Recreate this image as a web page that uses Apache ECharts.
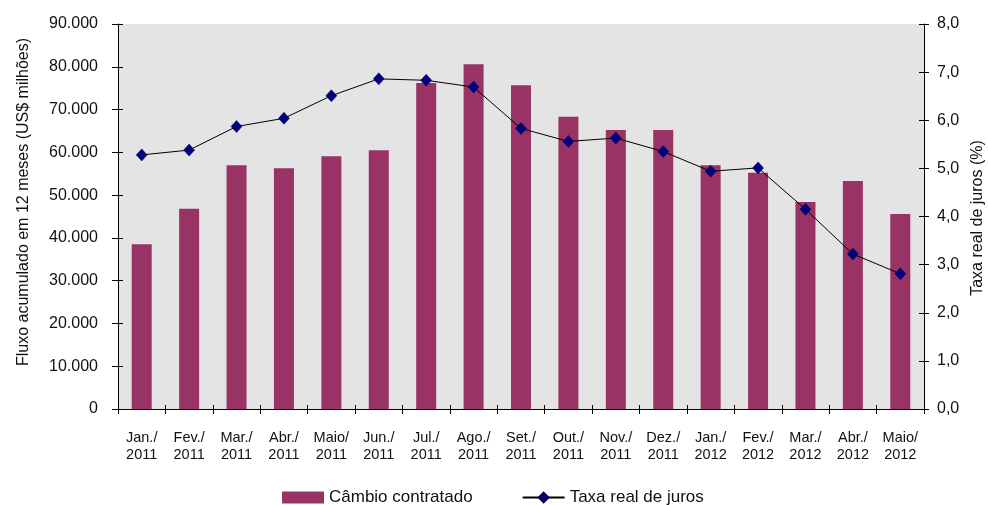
<!DOCTYPE html>
<html>
<head>
<meta charset="utf-8">
<script src="https://cdn.jsdelivr.net/npm/echarts@6/dist/echarts.min.js"></script>
<style>
html,body{margin:0;padding:0;background:#fff;}
#chart{width:988px;height:505px;}
</style>
</head>
<body>
<div id="chart"></div>
<script>
const categories = ['Jan./\n2011','Fev./\n2011','Mar./\n2011','Abr./\n2011','Maio/\n2011','Jun./\n2011','Jul./\n2011','Ago./\n2011','Set./\n2011','Out./\n2011','Nov./\n2011','Dez./\n2011','Jan./\n2012','Fev./\n2012','Mar./\n2012','Abr./\n2012','Maio/\n2012'];
const cambioContratado = [38500, 46800, 57000, 56300, 59100, 60500, 76200, 80600, 75700, 68300, 65200, 65200, 57000, 55200, 48400, 53300, 45600];
const taxaRealJuros = [5.28, 5.38, 5.87, 6.04, 6.51, 6.86, 6.83, 6.69, 5.83, 5.56, 5.63, 5.35, 4.94, 5.01, 4.15, 3.22, 2.81];
const leftTicks = [0, 90000, 10000];
const rightTicks = [0, 8, 1];
const seriesNames = ['Câmbio contratado', 'Taxa real de juros'];
const leftTitle = 'Fluxo acumulado em 12 meses (US$ milhões)';
const rightTitle = 'Taxa real de juros (%)';

const FONT = 'Liberation Sans, Arial, sans-serif';
const chart = echarts.init(document.getElementById('chart'), null, {renderer: 'canvas'});

function fmtLeft(v){
  if (v === 0) return '0';
  return (v/1000).toFixed(3);
}
function fmtRight(v){
  return v.toFixed(1).replace('.', ',');
}

const grid = {left: 118, right: 64, top: 24, bottom: 96, show: true, backgroundColor: '#e4e4e4', borderWidth: 0, containLabel: false};

chart.setOption({
  animation: false,
  textStyle: {fontFamily: FONT},
  grid: grid,
  legend: {
    left: 277, top: 484,
    itemWidth: 42, itemHeight: 12, itemGap: 49,
    textStyle: {fontFamily: FONT, fontSize: 17, color: '#111'},
    data: [
      {name: seriesNames[0], icon: 'rect'},
      {name: seriesNames[1]}
    ]
  },
  xAxis: [{
    type: 'category', data: categories, boundaryGap: true,
    axisLine: {show: true, lineStyle: {color: '#000', width: 1}},
    axisTick: {show: true, alignWithLabel: false, length: 5, lineStyle: {color: '#000'}},
    axisLabel: {fontFamily: FONT, fontSize: 14.5, color: '#111', margin: 20, lineHeight: 17, interval: 0}
  }, {
    type: 'category', data: categories, boundaryGap: true, position: 'bottom',
    axisLine: {show: false},
    axisTick: {show: true, inside: true, length: 4, lineStyle: {color: '#000'}},
    axisLabel: {show: false}
  }],
  yAxis: [{
    type: 'value', min: leftTicks[0], max: leftTicks[1], interval: leftTicks[2], position: 'left',
    axisLine: {show: true, lineStyle: {color: '#000'}},
    axisTick: {show: true, length: 6, lineStyle: {color: '#000'}},
    splitLine: {show: false},
    axisLabel: {fontFamily: FONT, fontSize: 16, color: '#111', margin: 20, formatter: fmtLeft}
  }, {
    type: 'value', min: rightTicks[0], max: rightTicks[1], interval: rightTicks[2], position: 'right',
    axisLine: {show: true, lineStyle: {color: '#000'}},
    axisTick: {show: true, length: 5, lineStyle: {color: '#000'}},
    splitLine: {show: false},
    axisLabel: {fontFamily: FONT, fontSize: 16, color: '#111', margin: 13, formatter: fmtRight}
  }, {
    type: 'value', min: leftTicks[0], max: leftTicks[1], interval: leftTicks[2], position: 'left',
    axisLine: {show: false}, splitLine: {show: false},
    axisTick: {show: true, inside: true, length: 5, lineStyle: {color: '#000'}},
    axisLabel: {show: false}
  }, {
    type: 'value', min: rightTicks[0], max: rightTicks[1], interval: rightTicks[2], position: 'right',
    axisLine: {show: false}, splitLine: {show: false},
    axisTick: {show: true, inside: true, length: 5, lineStyle: {color: '#000'}},
    axisLabel: {show: false}
  }],
  graphic: [{
    type: 'text', x: 24, y: 202, rotation: Math.PI/2,
    style: {text: leftTitle, fontFamily: FONT, fontSize: 16, fill: '#111', textAlign: 'center', textVerticalAlign: 'middle'}
  }, {
    type: 'text', x: 978, y: 218, rotation: Math.PI/2,
    style: {text: rightTitle, fontFamily: FONT, fontSize: 16, fill: '#111', textAlign: 'center', textVerticalAlign: 'middle'}
  }],
  series: [{
    name: seriesNames[0], type: 'bar', xAxisIndex: 0, yAxisIndex: 0,
    data: cambioContratado, barWidth: 20,
    itemStyle: {color: '#993366'}
  }, {
    name: seriesNames[1], type: 'line', xAxisIndex: 0, yAxisIndex: 1,
    data: taxaRealJuros,
    symbol: 'diamond', symbolSize: [11, 12],
    lineStyle: {color: '#000', width: 1},
    itemStyle: {color: '#000080', borderColor: '#000050', borderWidth: 0.5}
  }]
});
</script>
</body>
</html>
